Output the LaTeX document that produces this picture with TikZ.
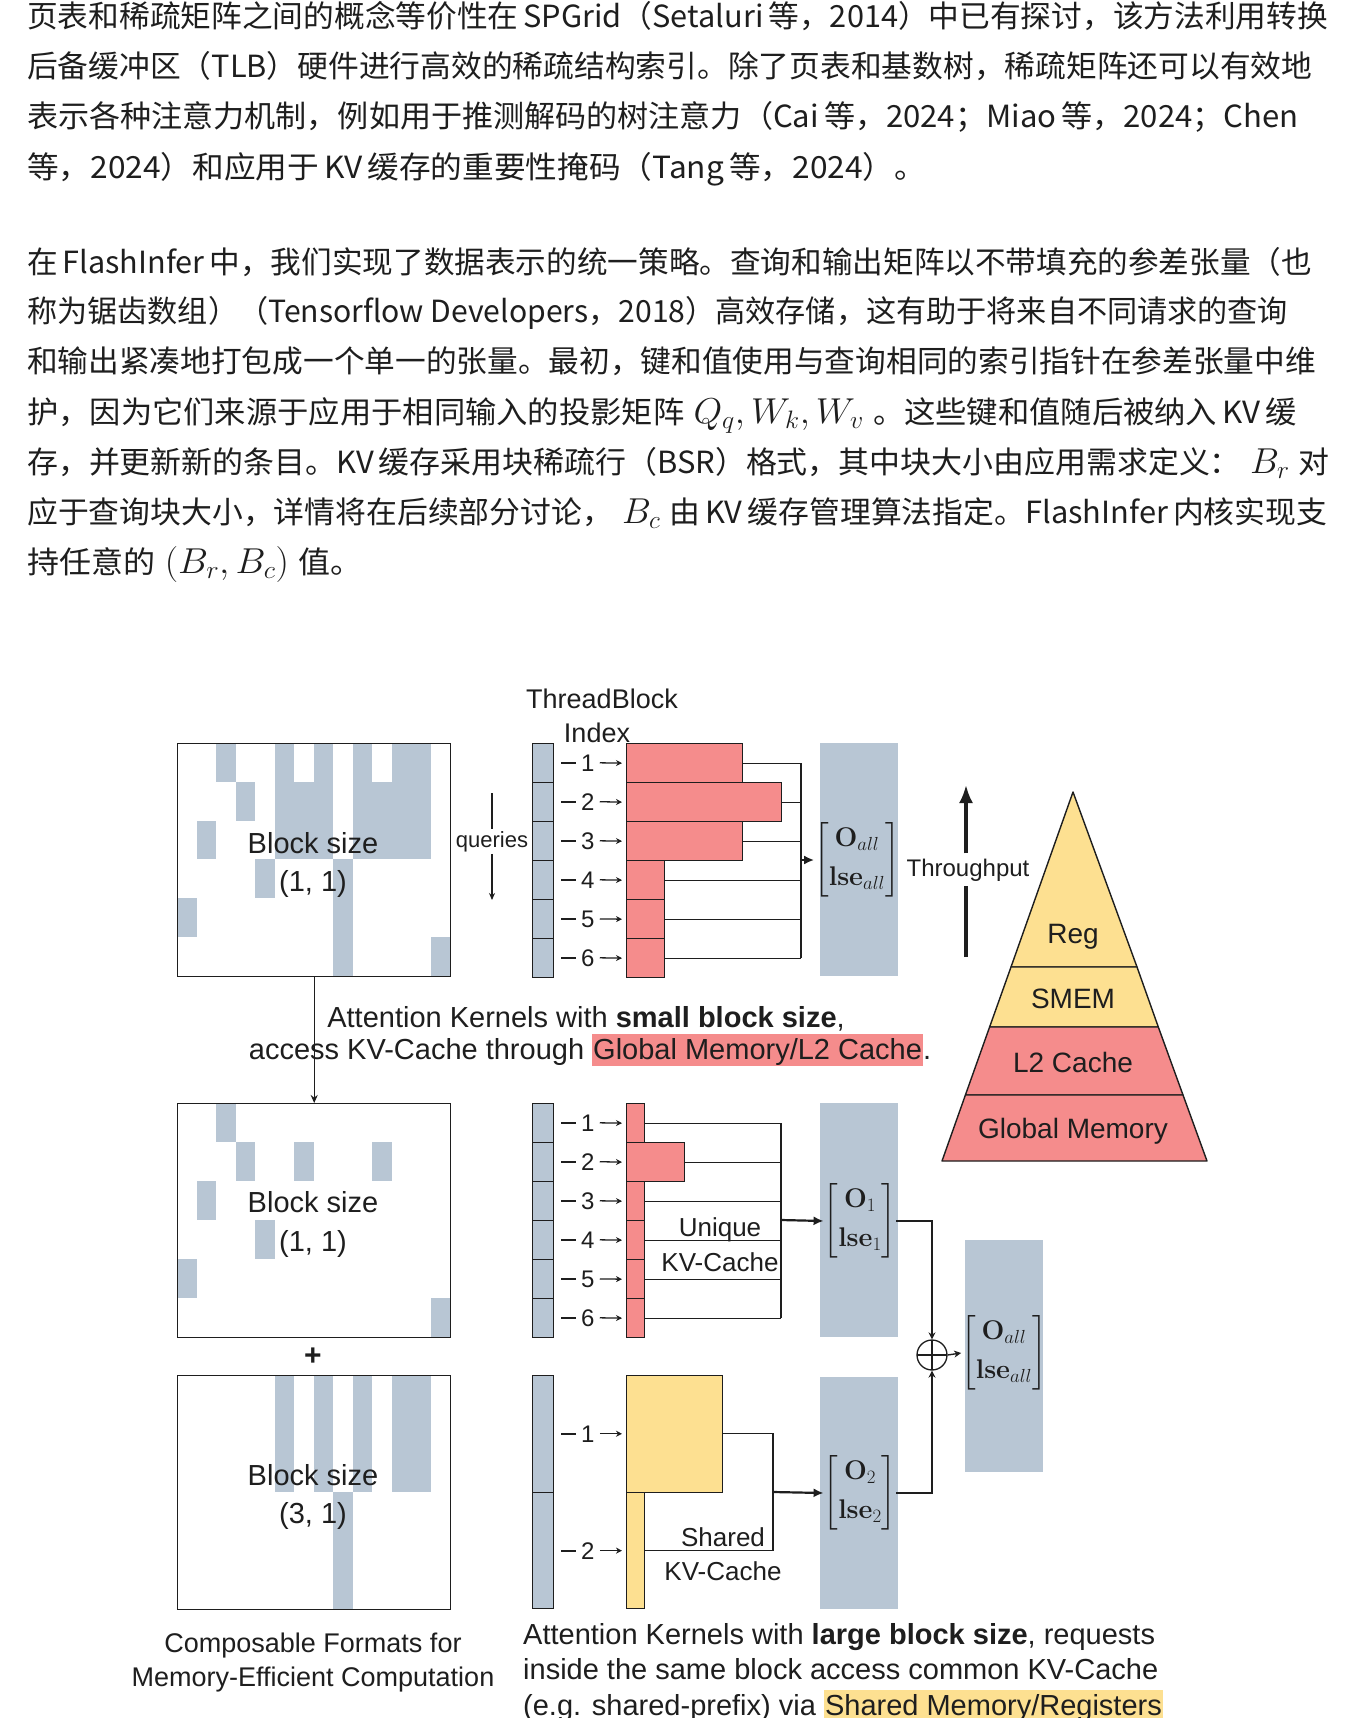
\RequirePackage{fix-cm}
\documentclass[tikz,border=0pt]{standalone}
\usepackage{amsmath}
\usepackage{graphicx}
\usepackage[no-math]{fontspec}
\setmainfont{Liberation Sans}
\newfontfamily\cjk{Noto Sans CJK SC}
\usetikzlibrary{arrows.meta,calc}
\definecolor{gb}{RGB}{184,198,212}
\definecolor{rd}{RGB}{245,140,140}
\definecolor{yl}{RGB}{253,224,145}
\definecolor{ink}{RGB}{30,30,30}
\newcommand{\gap}{\hspace{5pt}}
\newcommand{\mgap}{\hspace{9pt}}
\newcommand{\mth}[1]{{\fontsize{36}{36}\selectfont$#1$}}
\newcommand{\hl}[2]{{\setlength{\fboxsep}{1pt}\colorbox{#1}{\rule[-5pt]{0pt}{29pt}#2}}}
\newcommand{\OL}[2]{$\begin{bmatrix}\mathbf{#1}_{#2}\\[8pt]\mathbf{lse}_{#2}\end{bmatrix}$}
\newcommand{\numdash}[1]{\rule[7.5pt]{15pt}{1.6pt}\hspace{5pt}#1}
\newcommand{\sx}[2]{\scalebox{#1}[1]{#2}}
\tikzset{
  para/.style={anchor=base west, inner sep=0pt, font=\cjk\fontsize{30.5}{30.5}\selectfont, text=ink},
  conn/.style={draw=ink, line width=1.4pt},
  tcell/.style={draw=ink, fill=gb, line width=1.4pt, minimum width=21pt, inner sep=0pt, anchor=north west},
  barbox/.style={draw=ink, line width=1.4pt, inner sep=0pt, anchor=north west},
  gcol/.style={fill=gb, inner sep=0pt, anchor=north west},
  numlbl/.style={font=\fontsize{24}{24}\selectfont, text=ink, inner sep=1pt, anchor=base west},
  numarrow/.style={draw=ink, line width=1.3pt, -{Stealth[length=6pt,width=6pt]}, shorten >=4pt, shorten <=4pt},
  bigarrow/.style={draw=ink, line width=2.2pt, -{Latex[length=10pt,width=9pt]}},
  lbl/.style={font=\fontsize{29}{33}\selectfont, text=ink, inner sep=0pt, anchor=base},
  lblb/.style={font=\fontsize{27}{31}\selectfont, text=ink, inner sep=0pt, anchor=base},
  lblc/.style={font=\fontsize{26}{30}\selectfont, text=ink, inner sep=0pt, anchor=base},
  lbld/.style={font=\fontsize{28}{32}\selectfont, text=ink, inner sep=0pt, anchor=base},
  matlbl/.style={font=\fontsize{27}{31}\selectfont, text=ink, inner sep=0pt},
  mbox/.style={draw=ink, line width=1.4pt, minimum width=273pt, minimum height=233pt, inner sep=0pt, anchor=north west},
  pyr/.style={draw=ink, line width=1.4pt, line join=round},
}
\begin{document}
\begin{tikzpicture}[x=1pt,y=-1pt]
\useasboundingbox (0,0) rectangle (1364,1718);
\fill[white] (0,0) rectangle (1364,1718);

% ---------------- paragraphs ----------------
\node[para] (p1) at (27,28) {\sx{1.007}{页表和稀疏矩阵之间的概念等价性在\gap SPGrid（Setaluri\gap 等，2014）中已有探讨，该方法利用转换}};
\node[para] (p2) at (27,78) {\sx{1.008}{后备缓冲区（TLB）硬件进行高效的稀疏结构索引。除了页表和基数树，稀疏矩阵还可以有效地}};
\node[para] (p3) at (27,128) {\sx{1.019}{表示各种注意力机制，例如用于推测解码的树注意力（Cai\gap 等，2024；Miao\gap 等，2024；Chen}};
\node[para] (p4) at (27,178) {\sx{1.038}{等，2024）和应用于\gap KV\gap 缓存的重要性掩码（Tang\gap 等，2024）。}};

\node[para] (q1) at (27,273) {\sx{1.004}{在\gap FlashInfer\gap 中，我们实现了数据表示的统一策略。查询和输出矩阵以不带填充的参差张量（也}};
\node[para] (q2) at (27,322) {\sx{0.988}{称为锯齿数组）（Tensorflow Developers，2018）高效存储，这有助于将来自不同请求的查询}};
\node[para] (q3) at (27,372) {\sx{1.006}{和输出紧凑地打包成一个单一的张量。最初，键和值使用与查询相同的索引指针在参差张量中维}};
\node[para] (q4) at (27,423) {\sx{1.026}{护，因为它们来源于应用于相同输入的投影矩阵\mgap\mth{Q_q, W_k, W_v}\mgap 。这些键和值随后被纳入\gap KV\gap 缓}};
\node[para] (q5) at (27,473) {\sx{1.014}{存，并更新新的条目。KV\gap 缓存采用块稀疏行（BSR）格式，其中块大小由应用需求定义：\mgap\mth{B_r}\mgap 对}};
\node[para] (q6) at (27,523) {\sx{1.011}{应于查询块大小，详情将在后续部分讨论，\mgap\mth{B_c}\mgap 由\gap KV\gap 缓存管理算法指定。FlashInfer\gap 内核实现支}};
\node[para] (q7) at (27,573) {\sx{1.05}{持任意的\mgap\mth{(B_r, B_c)}\mgap 值。}};

% ---------------- matrices ----------------
\def\cw{19.5}
\foreach \c/\r/\w/\h in {2/0/1/1,3/1/1/1,1/2/1/1,5/0/1/3,6/1/1/2,7/0/1/3,4/3/1/1,8/3/1/3,9/0/1/3,10/1/1/2,11/0/2/3,0/4/1/1,13/5/1/1}
  \fill[gb] ({177+\cw*\c},{743+38.83*\r}) rectangle ++({\cw*\w},{38.83*\h});
\node[mbox] (mT) at (177,743) {};
\node[lbl] (bsT) at (313,853) {Block size};
\node[lbl] (bsT2) at (313,891) {(1, 1)};

\foreach \c/\r/\w/\h in {2/0/1/1,3/1/1/1,6/1/1/1,10/1/1/1,1/2/1/1,4/3/1/1,0/4/1/1,13/5/1/1}
  \fill[gb] ({177+\cw*\c},{1103+39*\r}) rectangle ++({\cw*\w},{39*\h});
\node[mbox, minimum height=234pt] (mM) at (177,1103) {};
\node[lbl] (bsM) at (313,1212) {Block size};
\node[lbl] (bsM2) at (313,1251) {(1, 1)};

\foreach \c/\r/\w/\h in {5/0/1/3,7/0/1/3,9/0/1/3,11/0/2/3,8/3/1/3}
  \fill[gb] ({177+\cw*\c},{1375+39*\r}) rectangle ++({\cw*\w},{39*\h});
\node[mbox, minimum height=234pt] (mB) at (177,1375) {};
\node[lbl] (bsB) at (313,1485) {Block size};
\node[lbl] (bsB2) at (313,1523) {(3, 1)};

\node[font=\fontsize{30}{30}\selectfont\bfseries, text=ink, inner sep=0pt] (plus) at (313,1357) {+};

\node[lblb] (comp1) at (313,1652) {Composable Formats for};
\node[lblb] (comp2) at (313,1686) {Memory-Efficient Computation};

% ---------------- queries ----------------
\node[font=\fontsize{22}{22}\selectfont, text=ink, inner sep=2pt, anchor=base] (queries) at (492,847) {queries};
\coordinate (qtop) at (492,793);
\coordinate (qbot) at (492,900);
\draw[conn] (qtop) -- (queries.north);
\draw[conn, -{Stealth[length=7pt,width=6pt]}] (queries.south) -- (qbot);

\node[lblb] (tb1) at (602,708) {ThreadBlock};
\node[lblb] (tb2) at (597,742) {Index};

% ---------------- top section ----------------
\node[gcol, minimum width=78pt, minimum height=233pt] (gT) at (820,743) {};
\coordinate (busT) at (801,860);
\foreach \r/\w in {1/116,2/155,3/116,4/38,5/38,6/38} {
  \node[tcell, minimum height=39pt] (tT\r) at (532,{743+39*(\r-1)}) {};
  \node[numlbl] (nT\r) at (560,{771+39*(\r-1)}) {\numdash{\r}};
  \node[barbox, fill=rd, minimum width=\w pt, minimum height=39pt] (bT\r) at (626,{743+39*(\r-1)}) {};
  \draw[numarrow] (nT\r.east) -- (bT\r.west);
  \draw[conn] (bT\r.east) -- (bT\r.east -| busT);
}
\draw[conn] (bT1.east -| busT) -- (bT6.east -| busT);
\node[matlbl] (oT) at (857,860) {\OL{O}{all}};
\draw[bigarrow] (busT) -- (oT.west);

% throughput
\node[font=\fontsize{24}{24}\selectfont, text=ink, inner sep=5pt, anchor=base] (thr) at (968,876) {Throughput};
\coordinate (thrTop) at (966,785);
\coordinate (thrBot) at (966,957);
\draw[draw=ink, line width=3.2pt, -{Latex[length=18pt,width=14pt]}] (thrTop |- thr.north) -- (thrTop);
\draw[draw=ink, line width=3.2pt] (thrBot) -- (thrBot |- thr.south);

% pyramid
\filldraw[pyr, fill=yl] (1073,792) -- (1137,967) -- (1011,967) -- cycle;
\filldraw[pyr, fill=yl] (1011,967) -- (1137,967) -- (1158.3,1027) -- (989.6,1027) -- cycle;
\filldraw[pyr, fill=rd] (989.6,1027) -- (1158.3,1027) -- (1183,1095) -- (965.4,1095) -- cycle;
\filldraw[pyr, fill=rd] (965.4,1095) -- (1183,1095) -- (1207,1161) -- (942,1161) -- cycle;
\node[lbld] (reg) at (1073,943) {Reg};
\node[lbld] (smem) at (1073,1008) {SMEM};
\node[lbld] (l2) at (1073,1072) {L2 Cache};
\node[lbld] (glob) at (1073,1138) {Global Memory};

% caption 1
\node[lbl] (cap1a) at (586,1027) {Attention Kernels with \textbf{small block size},};
\node[lbl] (cap1b) at (590,1059) {access KV-Cache through \hl{rd}{Global Memory/L2 Cache}.};
\draw[conn, -{Stealth[length=8pt,width=7pt]}] (mT.south) -- (mM.north);

% ---------------- middle section ----------------
\node[gcol, minimum width=78pt, minimum height=234pt] (gM) at (820,1103) {};
\coordinate (busM) at (781,1220);
\foreach \r/\w in {1/18,2/58,3/18,4/18,5/18,6/18} {
  \node[tcell, minimum height=39pt] (tM\r) at (532,{1103+39*(\r-1)}) {};
  \node[numlbl] (nM\r) at (560,{1131+39*(\r-1)}) {\numdash{\r}};
  \node[barbox, fill=rd, minimum width=\w pt, minimum height=39pt] (bM\r) at (626,{1103+39*(\r-1)}) {};
  \draw[numarrow] (nM\r.east) -- (bM\r.west);
  \draw[conn] (bM\r.east) -- (bM\r.east -| busM);
}
\draw[conn] (bM1.east -| busM) -- (bM6.east -| busM);
\node[lblc] (uq1) at (720,1236) {Unique};
\node[lblc] (uq2) at (720,1271) {KV-Cache};
\node[matlbl] (oM) at (860,1221) {\OL{O}{1}};
\draw[bigarrow] (busM) -- (oM.west);

% ---------------- bottom section ----------------
\node[gcol, minimum width=78pt, minimum height=232pt] (gB) at (820,1377) {};
\coordinate (busB) at (773,1492);
\node[tcell, minimum height=117pt] (tB1) at (532,1375) {};
\node[tcell, minimum height=116pt] (tB2) at (532,1492) {};
\node[numlbl] (nB1) at (560,1442) {\numdash{1}};
\node[numlbl] (nB2) at (560,1559) {\numdash{2}};
\node[barbox, fill=yl, minimum width=96pt, minimum height=117pt] (yB1) at (626,1375) {};
\node[barbox, fill=yl, minimum width=18pt, minimum height=116pt] (yB2) at (626,1492) {};
\draw[numarrow] (nB1.east) -- (nB1.east -| yB1.west);
\draw[numarrow] (nB2.east) -- (nB2.east -| yB2.west);
\coordinate (rB1) at (722,1433.5);
\coordinate (rB2) at (644,1550.5);
\draw[conn] (rB1) -- (rB1 -| busB) -- (rB2 -| busB) -- (rB2);
\node[lblc] (sh1) at (723,1546) {Shared};
\node[lblc] (sh2) at (723,1580) {KV-Cache};
\node[matlbl] (oB) at (860,1493) {\OL{O}{2}};
\draw[bigarrow] (busB) -- (oB.west);

% ---------------- merge ----------------
\node[gcol, minimum width=78pt, minimum height=232pt] (gF) at (965,1240) {};
\node[circle, draw=ink, line width=1.3pt, minimum size=30pt, inner sep=0pt,
  path picture={\draw[ink, line width=1.3pt] (path picture bounding box.north) -- (path picture bounding box.south)
  (path picture bounding box.west) -- (path picture bounding box.east);}] (oplus) at (932,1355) {};
\node[matlbl] (oF) at (1004,1353) {\OL{O}{all}};
\draw[conn, -{Stealth[length=7pt,width=7pt]}] (oM.east) -| (oplus.north);
\draw[conn, -{Stealth[length=7pt,width=7pt]}] (oB.east) -| (oplus.south);
\draw[conn, -{Stealth[length=7pt,width=7pt]}] (oplus.east) -- (oF.west);

% caption 2
\node[lbl, anchor=base west] (cap2a) at (523,1644) {Attention Kernels with \textbf{large block size}, requests};
\node[lbl, anchor=base west] (cap2b) at (523,1679) {inside the same block access common KV-Cache};
\node[lbl, anchor=base west] (cap2c) at (523,1715) {(e.g. shared-prefix) via \hl{yl}{Shared Memory/Registers}};
\end{tikzpicture}
\end{document}
